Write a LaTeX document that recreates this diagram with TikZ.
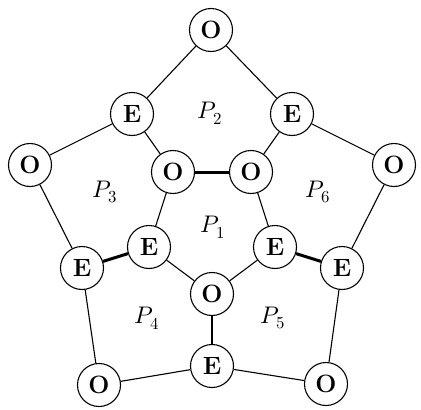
\documentclass[tikz,border=0pt]{standalone}
\usepackage{fontspec}
\setmainfont{Latin Modern Roman}
\usepackage{unicode-math}
\begin{document}
\begin{tikzpicture}[x=1pt,y=-1pt,
  vtx/.style={circle,draw,line width=1.1pt,minimum size=43pt,inner sep=0pt,fill=white,font=\fontsize{25}{29}\selectfont\bfseries},
  edge/.style={line width=1.1pt},
  bold edge/.style={line width=3pt},
  lab/.style={font=\fontsize{24}{28}\selectfont}]
\useasboundingbox (0,0) rectangle (421,410);
\node[vtx] (t) at (211,30) {O};
\node[vtx] (elu) at (132,114) {E};
\node[vtx] (eru) at (292,114) {E};
\node[vtx] (ol) at (30,165) {O};
\node[vtx] (or) at (394,165) {O};
\node[vtx] (oil) at (173,172) {O};
\node[vtx] (oir) at (251,172) {O};
\node[vtx] (elo) at (82,268) {E};
\node[vtx] (ero) at (342,268) {E};
\node[vtx] (eli) at (149,247) {E};
\node[vtx] (eri) at (275,247) {E};
\node[vtx] (oc) at (212,294) {O};
\node[vtx] (eb) at (212,366) {E};
\node[vtx] (obl) at (99,385) {O};
\node[vtx] (obr) at (326,384) {O};
\draw[edge] (t) -- (elu);
\draw[edge] (t) -- (eru);
\draw[edge] (elu) -- (ol);
\draw[edge] (elu) -- (oil);
\draw[edge] (eru) -- (or);
\draw[edge] (eru) -- (oir);
\draw[bold edge] (oil) -- (oir);
\draw[edge] (ol) -- (elo);
\draw[edge] (oil) -- (eli);
\draw[edge] (oir) -- (eri);
\draw[edge] (or) -- (ero);
\draw[bold edge] (elo) -- (eli);
\draw[bold edge] (eri) -- (ero);
\draw[edge] (eli) -- (oc);
\draw[edge] (eri) -- (oc);
\draw[edge] (oc) -- (eb);
\draw[edge] (elo) -- (obl);
\draw[edge] (ero) -- (obr);
\draw[edge] (obl) -- (eb);
\draw[edge] (eb) -- (obr);
\node[lab] (p2) at (210,113) {$P_2$};
\node[lab] (p3) at (105,192) {$P_3$};
\node[lab] (p6) at (318,192) {$P_6$};
\node[lab] (p1) at (213,227) {$P_1$};
\node[lab] (p4) at (147,318) {$P_4$};
\node[lab] (p5) at (273,318) {$P_5$};
\end{tikzpicture}
\end{document}
